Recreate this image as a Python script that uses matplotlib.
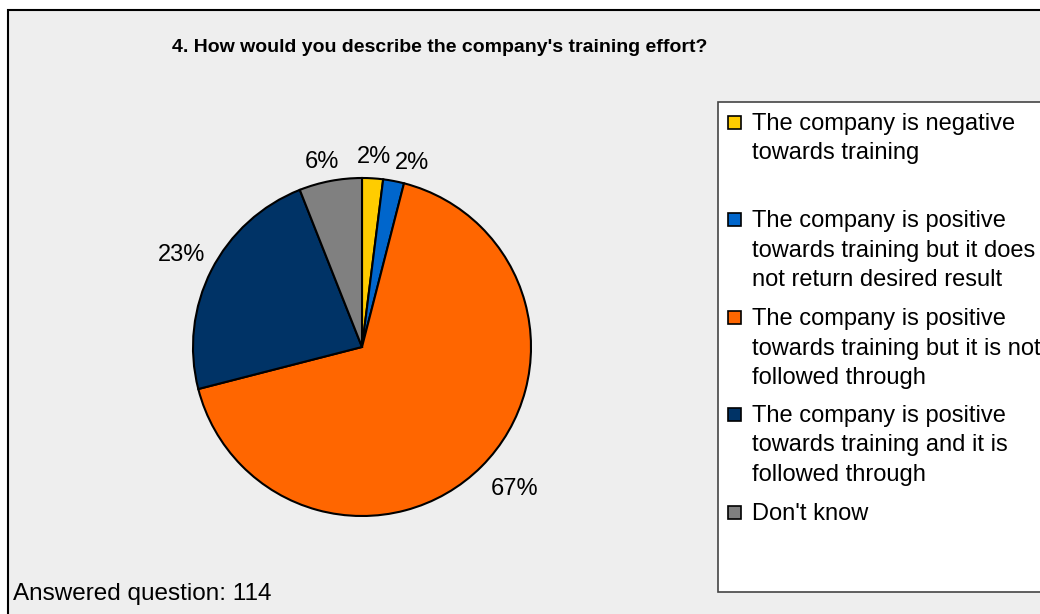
import matplotlib.pyplot as plt
import numpy as np
from matplotlib.patches import Rectangle

# Survey question 4: company attitude towards training
title = "4. How would you describe the company's training effort?"
answers = [
    ["The company is negative", "towards training"],
    ["The company is positive", "towards training but it does", "not return desired result"],
    ["The company is positive", "towards training but it is not", "followed through"],
    ["The company is positive", "towards training and it is", "followed through"],
    ["Don't know"],
]
shares = [2, 2, 67, 23, 6]  # percent of respondents
answered = 114

colours = ["#FFCC00", "#0066CC", "#FF6600", "#003366", "#808080"]

plt.rcParams["font.family"] = ["Liberation Sans", "DejaVu Sans"]

W, H = 1040, 614


# work in pixel coordinates measured from the top-left corner
def fx(x):
    return x / W


def fy(y):
    return 1 - y / H


fig = plt.figure(figsize=(W / 100, H / 100), dpi=100, facecolor="white")

# grey chart area with a black frame, running off the right and bottom
fig.patches.append(
    Rectangle(
        (fx(8), fy(H + 10)), fx(W + 10 - 8), fy(10) - fy(H + 10),
        transform=fig.transFigure, facecolor="#EEEEEE", edgecolor="black",
        linewidth=1.5, zorder=-1,
    )
)

fig.text(fx(439.5), fy(52), title, ha="center", va="baseline",
         fontsize=14, fontweight="bold")

# Pie
cx, cy, r = 362, 347, 169
ax = fig.add_axes([fx(cx - r), fy(cy + r), 2 * r / W, 2 * r / H])
ax.set_zorder(1)
wedges, _ = ax.pie(
    shares,
    colors=colours,
    startangle=90,
    counterclock=False,
    wedgeprops=dict(edgecolor="black", linewidth=1.5),
)
ax.set_xlim(-1, 1)
ax.set_ylim(-1, 1)
ax.axis("off")

# outside labels: radial distance and small angular nudge per slice
label_dist = [1.126, 1.13, 1.235, 1.196, 1.12]
label_nudge = [0, -4.5, 2, 0, 1.4]
for w, share, d, nudge in zip(wedges, shares, label_dist, label_nudge):
    mid = np.deg2rad((w.theta1 + w.theta2) / 2 + nudge)
    ax.text(d * np.cos(mid), d * np.sin(mid), f"{share}%",
            ha="center", va="center", fontsize=17, clip_on=False)

# Legend box
fig.patches.append(
    Rectangle(
        (fx(718), fy(592)), fx(W + 10 - 718), fy(102) - fy(592),
        transform=fig.transFigure, facecolor="white", edgecolor="#444444",
        linewidth=1.2, zorder=1,
    )
)

baselines = [130, 227, 325, 422, 520]
for lines, colour, base in zip(answers, colours, baselines):
    fig.patches.append(
        Rectangle(
            (fx(728), fy(base - 1.5)), 13 / W, 13 / H,
            transform=fig.transFigure, facecolor=colour, edgecolor="black",
            linewidth=1.2, zorder=2,
        )
    )
    for i, line in enumerate(lines):
        fig.text(fx(752), fy(base + 29.5 * i), line, ha="left",
                 va="baseline", fontsize=17)

fig.text(fx(13), fy(600), f"Answered question: {answered}", ha="left",
         va="baseline", fontsize=17.5)

fig.savefig("out.png", dpi=100)
